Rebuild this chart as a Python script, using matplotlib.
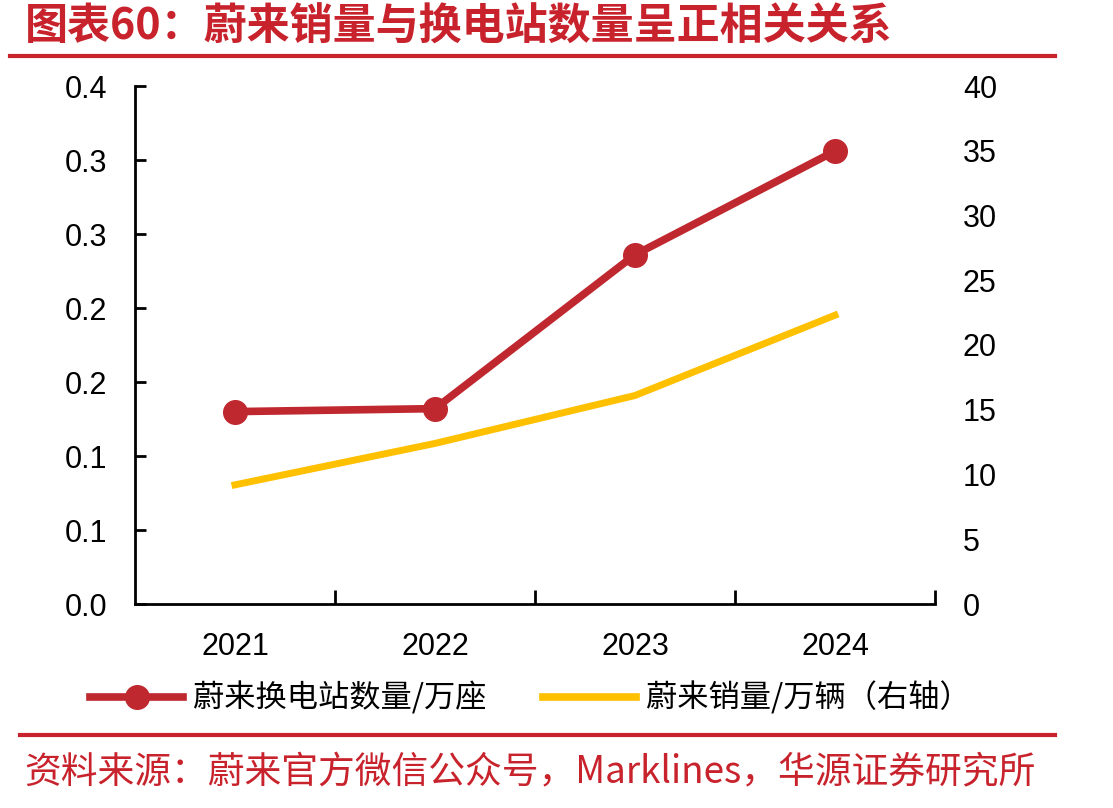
import matplotlib
matplotlib.use("Agg")
import matplotlib.pyplot as plt
from matplotlib.lines import Line2D

plt.rcParams['font.family'] = ['Liberation Sans', 'Noto Sans CJK SC', 'DejaVu Sans']

years = ["2021", "2022", "2023", "2024"]
stations = [0.130, 0.132, 0.236, 0.306]   # 万座 (left axis)
sales = [9.2, 12.4, 16.1, 22.3]           # 万辆 (right axis)
left_ticks = [0.0, 0.05, 0.10, 0.15, 0.20, 0.25, 0.30, 0.35]
left_labels = ["0.0", "0.1", "0.1", "0.2", "0.2", "0.3", "0.3", "0.4"]
right_ticks = [0, 5, 10, 15, 20, 25, 30, 35, 40]
title = "图表60：蔚来销量与换电站数量呈正相关关系"
source = "资料来源：蔚来官方微信公众号，Marklines，华源证券研究所"
name_st = "蔚来换电站数量/万座"
name_sa = "蔚来销量/万辆（右轴）"

RED = "#C0282F"
YEL = "#FFC000"
TRED = "#C8232C"
cjk = ['Noto Sans CJK SC', 'DejaVu Sans']

fig = plt.figure(figsize=(11.13, 8.08), dpi=100)
ax = fig.add_axes([135/1113, 1-604/808, 800/1113, 518/808])
ax2 = ax.twinx()

x = list(range(len(years)))
ax.plot(x, stations, color=RED, lw=5.5, marker='o', ms=17, zorder=3, solid_capstyle='butt')
ax2.plot(x, sales, color=YEL, lw=5, zorder=2)

ax.set_xlim(-0.5, 3.5)
ax.set_ylim(0, 0.35)
ax2.set_ylim(0, 40)
ax.set_yticks(left_ticks)
ax.set_yticklabels(left_labels)
ax2.set_yticks(right_ticks)
ax.set_xticks(x)
ax.set_xticklabels(years)
ax.set_xticks([0.5, 1.5, 2.5, 3.5], minor=True)

for a in (ax, ax2):
    for s in ['top', 'right']:
        a.spines[s].set_visible(False)
ax2.spines['left'].set_visible(False)
ax2.spines['bottom'].set_visible(False)
ax.spines['left'].set_linewidth(2)
ax.spines['bottom'].set_linewidth(2)

ax.tick_params(axis='y', direction='in', length=8, width=2, labelsize=22, pad=20)
ax.tick_params(axis='x', which='major', length=0, labelsize=22, pad=20)
ax.tick_params(axis='x', which='minor', direction='in', length=10, width=2)
ax2.tick_params(axis='y', length=0, labelsize=22, pad=20)
ax.set_zorder(ax2.get_zorder() + 1)
ax.patch.set_visible(False)

# title and rules
fig.text(25/1113, 1-27/808, title, color=TRED, fontsize=31, fontweight='bold',
         family=cjk, va='center', ha='left')
fig.add_artist(Line2D([10/1113, 1055/1113], [1-56/808, 1-56/808], color=TRED, lw=3))
fig.add_artist(Line2D([20/1113, 1055/1113], [1-735/808, 1-735/808], color=TRED, lw=3))
fig.text(24/1113, 1-773/808, source, color=TRED, fontsize=26.5, family=cjk,
         va='center', ha='left')

# legend
h1 = Line2D([], [], color=RED, lw=5.5, marker='o', ms=17)
h2 = Line2D([], [], color=YEL, lw=5.5)
fig.legend([h1, h2], [name_st, name_sa], loc='center', bbox_to_anchor=(530/1113, 1-698/808),
           ncol=2, frameon=False, prop={'family': cjk, 'size': 22.5}, handlelength=3.0,
           columnspacing=1.8, handletextpad=0.3)

fig.savefig("out.png", dpi=100)
